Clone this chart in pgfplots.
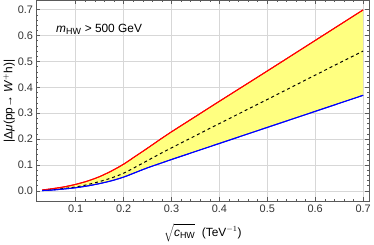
\documentclass[border=0pt]{standalone}
\usepackage{pgfplots}
\pgfplotsset{compat=1.18}
\usepgfplotslibrary{fillbetween}
\usepackage{fontspec}
\setmainfont{Liberation Sans}
\setsansfont{Liberation Sans}
\definecolor{bandy}{RGB}{255,255,128}
\definecolor{gridc}{RGB}{215,215,215}
\definecolor{framec}{RGB}{90,90,90}
\pgfplotstableread{
x up lo mid
0.03 0.003 0.001 0.002
0.05 0.008 0.003 0.004
0.075 0.015 0.007 0.009
0.1 0.025 0.012 0.015
0.125 0.038 0.019 0.024
0.15 0.055 0.028 0.036
0.175 0.077 0.039 0.050
0.2 0.103 0.053 0.068
0.225 0.134 0.071 0.092
0.25 0.165 0.089 0.117
0.275 0.197 0.105 0.142
0.3 0.228 0.121 0.166
0.35 0.287 0.152 0.213
0.4 0.346 0.183 0.260
0.5 0.463 0.245 0.353
0.6 0.581 0.307 0.447
0.7 0.699 0.369 0.540
}\data
\begin{document}
\begin{tikzpicture}
\begin{axis}[
  scale only axis, width=336pt, height=203pt,
  xmin=0.018, xmax=0.713, ymin=-0.041, ymax=0.736,
  xtick={0.1,0.2,...,0.7}, ytick={0,0.1,...,0.7},
  minor x tick num=4, minor y tick num=4,
  tick align=inside, major tick length=4pt, minor tick length=2pt,
  grid=major, major grid style={gridc, line width=0.6pt},
  axis line style={framec, line width=0.6pt},
  every tick/.style={framec, line width=0.5pt},
  tick label style={font=\fontsize{11}{13}\selectfont, text=black!80},
  /pgf/number format/assume math mode=true,
  /pgf/number format/.cd, fixed, fixed zerofill, precision=1, /tikz/.cd,
  xlabel={\fontsize{12}{14}\selectfont $\sqrt{\mathstrut\textit{c}_{\textrm{\fontsize{9}{10}\selectfont HW}}}$\ \ (TeV$^{-1}$)},
  ylabel={\fontsize{12}{14}\selectfont |Δ\textit{μ}(pp→ \textit{W}$^{+}$h)|},
  xlabel style={yshift=-4pt},
  ylabel style={yshift=-4pt},
  clip=true,
]
\addplot[name path=up, draw=red, line width=1pt, smooth, tension=0.5] table[x=x,y=up] {\data};
\addplot[name path=lo, draw=blue, line width=1pt, smooth, tension=0.5] table[x=x,y=lo] {\data};
\addplot[bandy] fill between[of=up and lo];
\addplot[draw=black, dashed, line width=1pt, smooth, tension=0.5] table[x=x,y=mid] {\data};
\addplot[draw=red, line width=1pt, smooth, tension=0.5] table[x=x,y=up] {\data};
\addplot[draw=blue, line width=1pt, smooth, tension=0.5] table[x=x,y=lo] {\data};
\node[anchor=west, font=\fontsize{12}{14}\selectfont] at (axis cs:0.052,0.623) {\textit{m}$_{\textrm{\fontsize{9}{10}\selectfont HW}}$ > 500 GeV};
\end{axis}
\end{tikzpicture}
\end{document}
